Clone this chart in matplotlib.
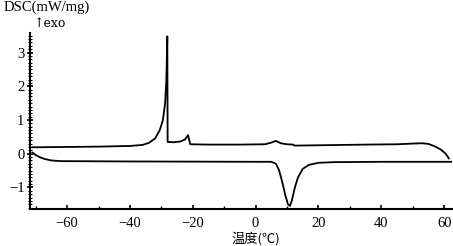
import matplotlib
matplotlib.use("Agg")
import matplotlib.pyplot as plt
from matplotlib.ticker import MultipleLocator

# heating curve (upper)
heat_t = [-71, -60, -50, -40, -36, -34, -32, -30.5, -29.5, -28.8, -28.4, -28.1,
          -28.0, -26, -24, -22.5, -21.5, -20.8, -15, -5, 3, 5, 6.5, 8, 10, 12,
          12.3, 20, 35, 45, 50, 53, 55, 57, 59, 60.5, 61.5]
heat_q = [0.19, 0.2, 0.21, 0.23, 0.26, 0.32, 0.45, 0.7, 1.0, 1.5, 2.2, 3.48,
          0.35, 0.34, 0.36, 0.42, 0.55, 0.28, 0.27, 0.27, 0.28, 0.33, 0.38, 0.31, 0.28, 0.27,
          0.24, 0.25, 0.27, 0.28, 0.3, 0.31, 0.29, 0.22, 0.12, 0.0, -0.14]

# cooling curve (lower)
cool_t = [-71, -70, -68.5, -67, -65, -62, -40, 0, 5, 6.5, 7.5, 8.5, 9.5, 10.3,
          10.9, 11.5, 12.5, 13.5, 15, 17, 20, 25, 40, 63]
cool_q = [0.03, -0.04, -0.11, -0.16, -0.2, -0.22, -0.23, -0.24, -0.24, -0.3, -0.5, -0.85, -1.25, -1.5,
          -1.55, -1.4, -1.0, -0.7, -0.45, -0.33, -0.27, -0.25, -0.24, -0.24]

xticks = [-60, -40, -20, 0, 20, 40, 60]
yticks = [-1, 0, 1, 2, 3]

serif = "Liberation Serif"

fig = plt.figure(figsize=(4.53, 2.46), dpi=100)
ax = fig.add_axes([30/453, 1-209/246, 422/453, 176/246])

ax.plot(heat_t, heat_q, color="black", lw=1.3)
ax.plot(cool_t, cool_q, color="black", lw=1.3)

ax.set_xlim(-71.8, 62.5)
ax.set_ylim(-1.64, 3.58)

ax.spines["top"].set_visible(False)
ax.spines["right"].set_visible(False)
ax.spines["left"].set_linewidth(1.5)
ax.spines["bottom"].set_linewidth(1.5)

ax.set_xticks(xticks)
ax.set_yticks(yticks)
ax.set_xticklabels([str(v).replace("-", "\u2212") for v in xticks], family=serif, fontsize=10.5)
ax.set_yticklabels([str(v).replace("-", "\u2212") for v in yticks], family=serif, fontsize=10.5)
ax.xaxis.set_minor_locator(MultipleLocator(10))
ax.yaxis.set_minor_locator(MultipleLocator(0.1))
ax.tick_params(axis="x", which="major", direction="in", length=3, width=1.2, pad=6)
ax.tick_params(axis="x", which="minor", direction="in", length=2, width=1)
ax.tick_params(axis="y", which="major", direction="inout", length=4, width=1.2, pad=2)
ax.tick_params(axis="y", which="minor", direction="inout", length=2.5, width=0.8)

fig.text(4/453, 1-11/246, "DSC(mW/mg)", family=serif, fontsize=10.5, ha="left", va="baseline")
fig.text(33/453, 1-27/246, "\u2191exo", family=["DejaVu Serif"], fontsize=9, ha="left", va="baseline")
fig.text(256/453, 1-243/246, "温度(℃)", family=["Noto Sans CJK SC", "DejaVu Sans"],
         fontsize=9.5, ha="center", va="baseline")

fig.savefig("out.png", dpi=100)
